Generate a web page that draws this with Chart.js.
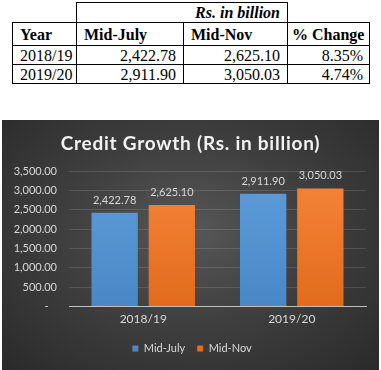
<!DOCTYPE html>
<html>
<head>
<meta charset="utf-8">
<script src="https://cdn.jsdelivr.net/npm/chart.js@4/dist/chart.umd.min.js"></script>
<style>
  body { margin: 0; width: 381px; height: 370px; background: #fff; position: relative; overflow: hidden; }
  #tbl { position: absolute; left: 12px; top: 2px; width: 357px; table-layout: fixed; border-collapse: collapse;
         font-family: "Liberation Serif", serif; font-size: 16px; color: #000; }
  #tbl td { border: 1.5px solid #000; padding: 0 7px; line-height: 17px; white-space: nowrap; }
  #tbl td:last-child { padding: 0 6px 0 4px; }
  #tbl td.blank { border: none; }
  #tbl td.num { text-align: right; }
  #tbl tr.head td { font-weight: bold; height: 22px; }
  #tbl tr.unit td { height: 19px; }
  #tbl tr.body td { height: 18px; }
  #box { position: absolute; left: 2px; top: 120px; width: 377px; height: 250px;
         background: radial-gradient(ellipse at 50% 45%, #575757 0%, #404040 45%, #2a2a2a 100%); }
</style>
</head>
<body>
<table id="tbl"></table>
<div id="box"><canvas id="creditChart" width="377" height="250"></canvas></div>
<script>
// datos del cuadro y del grafico
var years = ['2018/19', '2019/20'];
var midJuly = [2422.78, 2911.90];
var midNov = [2625.10, 3050.03];
var pctChange = ['8.35%', '4.74%'];
var yTickValues = [0, 500, 1000, 1500, 2000, 2500, 3000, 3500];
var chartTitle = 'Credit Growth (Rs. in billion)';

function fmt(v) {
    return v.toLocaleString('en-US', { minimumFractionDigits: 2, maximumFractionDigits: 2 });
}

// cuadro de arriba
var tbl = document.getElementById('tbl');
var html = '<colgroup><col style="width:64px"><col style="width:107px"><col style="width:104px"><col style="width:82px"></colgroup>';
html += '<tr class="unit"><td class="blank"></td><td colspan="2" class="num" style="font-weight:bold;font-style:italic">Rs. in billion</td><td class="blank"></td></tr>';
html += '<tr class="head"><td>Year</td><td>Mid-July</td><td>Mid-Nov</td><td class="num">% Change</td></tr>';
for (var i = 0; i < years.length; i++) {
    html += '<tr class="body"><td>' + years[i] + '</td><td class="num">' + fmt(midJuly[i]) + '</td><td class="num">' +
        fmt(midNov[i]) + '</td><td class="num">' + pctChange[i] + '</td></tr>';
}
tbl.innerHTML = html;

function barFill(top, bottom) {
    return function (context) {
        var chart = context.chart;
        var area = chart.chartArea;
        if (!area) return top;
        var g = chart.ctx.createLinearGradient(0, area.top, 0, area.bottom);
        g.addColorStop(0, top);
        g.addColorStop(1, bottom);
        return g;
    };
}

// etiquetas de valor encima de cada barra + titulo con espaciado
var barValues = {
    id: 'barValues',
    afterLayout: function (chart) {
        // la leyenda va centrada en todo el lienzo, no en el hueco sin padding
        if (chart.legend) {
            chart.legend.left += 8;
            chart.legend.right += 8;
        }
    },
    afterDatasetsDraw: function (chart) {
        var ctx = chart.ctx;
        ctx.save();
        ctx.fillStyle = '#d9d9d9';
        ctx.font = '11px Lato';
        ctx.textAlign = 'center';
        ctx.textBaseline = 'bottom';
        chart.data.datasets.forEach(function (ds, di) {
            chart.getDatasetMeta(di).data.forEach(function (bar, j) {
                ctx.fillText(fmt(ds.data[j]), bar.x, bar.y - 7);
            });
        });
        ctx.restore();
    },
    afterDraw: function (chart) {
        var ctx = chart.ctx;
        ctx.save();
        ctx.fillStyle = '#f2f2f2';
        ctx.font = 'bold 19px Lato';
        ctx.letterSpacing = '0.75px';
        ctx.textAlign = 'center';
        ctx.textBaseline = 'middle';
        ctx.fillText(chartTitle, chart.width / 2, 24);
        ctx.restore();
    }
};

var ctx = document.getElementById('creditChart').getContext('2d');
var chart = new Chart(ctx, {
    type: 'bar',
    data: {
        labels: years,
        datasets: [{
            label: 'Mid-July',
            data: midJuly,
            backgroundColor: barFill('#5e9ddb', '#4a87c6')
        }, {
            label: 'Mid-Nov',
            data: midNov,
            backgroundColor: barFill('#f5853b', '#e26b1c')
        }]
    },
    options: {
        responsive: false,
        animation: false,
        devicePixelRatio: 1,
        categoryPercentage: 0.77,
        barPercentage: 0.81,
        layout: { padding: { left: 0, right: 13, top: 51, bottom: 6 } },
        plugins: {
            title: { display: false },
            legend: {
                position: 'bottom',
                labels: { color: '#d9d9d9', boxWidth: 6, boxHeight: 6, padding: 12, font: { family: 'Lato', size: 11 } }
            },
            tooltip: { enabled: false }
        },
        scales: {
            x: {
                grid: { display: false, drawTicks: false },
                border: { display: true, color: '#bfbfbf', width: 1 },
                ticks: { color: '#d9d9d9', font: { family: 'Lato', size: 12 }, padding: 5 }
            },
            y: {
                min: 0,
                max: 3500,
                afterBuildTicks: function (scale) {
                    scale.ticks = yTickValues.map(function (v) { return { value: v }; });
                },
                afterFit: function (scale) { scale.width = 67; },
                grid: { color: 'rgba(255,255,255,0.13)', drawTicks: false },
                border: { display: false },
                ticks: {
                    color: '#d9d9d9',
                    font: { family: 'Lato', size: 11 },
                    padding: 12,
                    callback: function (v) { return v === 0 ? '-   ' : fmt(v); }
                }
            }
        }
    },
    plugins: [barValues]
});
</script>
</body>
</html>
